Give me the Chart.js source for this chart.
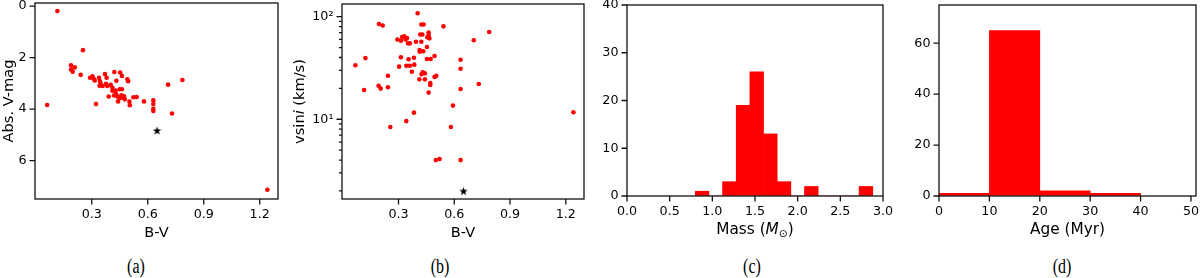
<!DOCTYPE html>
<html>
<head>
<meta charset="utf-8">
<script src="https://cdn.jsdelivr.net/npm/chart.js@4.4.1/dist/chart.umd.min.js"></script>
<style>
  html, body { margin: 0; padding: 0; background: #fff; overflow: hidden; }
  #page { position: relative; width: 1200px; height: 278px; overflow: hidden; background: #fff; }
  #page canvas { position: absolute; }
  .cap { position: absolute; top: 266px; font: 16px "Liberation Serif", serif; color: #000;
         transform: translate(-50%, -50%) scaleY(1.3); white-space: nowrap; }
</style>
</head>
<body>
<div id="page">
  <canvas id="chartA"></canvas>
  <canvas id="chartB"></canvas>
  <canvas id="chartC"></canvas>
  <canvas id="chartD"></canvas>
  <div class="cap" style="left:136px">(a)</div>
  <div class="cap" style="left:440px">(b)</div>
  <div class="cap" style="left:752px">(c)</div>
  <div class="cap" style="left:1062px">(d)</div>
</div>
<script>
// (a) B-V vs absolute V magnitude
const bvA = [0.116, 0.061, 0.253, 0.189, 0.209, 0.189, 0.198, 0.241, 0.291, 0.304,
             0.312, 0.316, 0.339, 0.344, 0.348, 0.342, 0.359, 0.371, 0.380, 0.377,
             0.384, 0.391, 0.323, 0.402, 0.411, 0.411, 0.421, 0.432, 0.428, 0.420,
             0.430, 0.437, 0.441, 0.452, 0.462, 0.450, 0.462, 0.459, 0.466, 0.473,
             0.477, 0.452, 0.491, 0.495, 0.502, 0.504, 0.523, 0.541, 0.580, 0.630,
             0.630, 0.630, 0.630, 0.709, 0.730, 0.786, 1.241];
const vmagA = [0.19, 3.84, 1.71, 2.30, 2.38, 2.46, 2.55, 2.67, 2.78, 2.73,
               2.84, 2.89, 2.78, 2.92, 3.02, 3.09, 3.10, 2.64, 2.78, 3.02,
               3.10, 3.51, 3.80, 3.06, 3.17, 3.29, 2.56, 2.90, 3.28, 3.47,
               3.42, 3.51, 3.70, 2.58, 2.71, 3.23, 3.23, 3.46, 3.55, 3.50,
               3.62, 3.57, 2.84, 2.92, 3.71, 3.85, 3.54, 3.53, 3.70, 3.66,
               3.80, 3.99, 4.07, 3.05, 4.17, 2.87, 7.13];

// (b) B-V vs v sin i
const bvB = [0.403, 0.195, 0.215, 0.423, 0.435, 0.542, 0.788, 0.417, 0.428, 0.462,
             0.462, 0.455, 0.466, 0.320, 0.331, 0.346, 0.338, 0.294, 0.313, 0.351,
             0.361, 0.394, 0.423, 0.705, 0.453, 0.414, 0.414, 0.433, 0.494, 0.068,
             0.122, 0.313, 0.354, 0.383, 0.453, 0.473, 0.634, 0.303, 0.342, 0.361,
             0.385, 0.372, 0.430, 0.442, 0.424, 0.634, 0.243, 0.494, 0.503, 0.412,
             0.442, 0.471, 0.471, 0.732, 0.193, 0.204, 0.243, 0.115, 0.634, 0.462,
             0.593, 0.383, 1.241, 0.342, 0.256, 0.582, 0.501, 0.521, 0.634];
const vsiniB = [108, 85, 82, 84, 84, 80.5, 71, 67, 67, 70,
                66, 63, 61.5, 63.4, 64.4, 62, 60, 60, 58.4, 55,
                55, 57, 57, 59, 50.7, 47.3, 45.6, 46, 41.4, 33.6,
                39.5, 40.2, 38.5, 39.8, 38.7, 38.7, 38, 32.6, 33.3, 33.3,
                34.1, 29.1, 28.7, 28, 27.5, 31.1, 26.6, 25.8, 26.5, 24.5,
                24.5, 22.6, 21.6, 22.1, 21.2, 19.9, 20.5, 19.3, 19.7, 18.2,
                13.6, 11.6, 11.7, 9.6, 8.4, 8.4, 4.0, 4.1, 4.0];

// the Sun (black star)
const sunBV = 0.65;
const sunVmag = 4.83;
const sunVsini = 2.0;

// (c) mass histogram
const massBins = [0.88, 1.04, 1.20, 1.36, 1.52, 1.68, 1.84, 2.00, 2.16, 2.32, 2.48, 2.64, 2.80];
const massCounts = [1, 0, 3, 19, 26, 13, 3, 0, 2, 0, 0, 0, 2];

// (d) age histogram
const ageBins = [5, 15, 25, 35];
const ageCounts = [1, 65, 2, 1];

// ticks
const bvTicks = [0.3, 0.6, 0.9, 1.2];
const vmagTicks = [0, 2, 4, 6];
const vsiniMajor = [10, 100];
const vsiniMinor = [2, 3, 4, 5, 6, 7, 8, 9, 20, 30, 40, 50, 60, 70, 80, 90];
const massTicks = [0, 0.5, 1.0, 1.5, 2.0, 2.5, 3.0];
const massCountTicks = [0, 10, 20, 30, 40];
const ageTicks = [0, 10, 20, 30, 40, 50];
const ageCountTicks = [0, 20, 40, 60];

const RED = '#ff0000';
const FONT = 'DejaVu Sans';
const TICK_SIZE = 12.7;

// plot areas on the page
const boxes = {
    a: { L: 35, T: 3, R: 278, B: 199 },
    b: { L: 342, T: 4, R: 584, B: 199 },
    c: { L: 627, T: 5, R: 883, B: 196 },
    d: { L: 939, T: 5, R: 1196, B: 196 }
};

function starMarker(size) {
    const c = document.createElement('canvas');
    c.width = c.height = size;
    const g = c.getContext('2d');
    g.fillStyle = '#000';
    g.beginPath();
    for (let i = 0; i < 10; i++) {
        const r = i % 2 ? size * 0.2 : size * 0.5;
        const ang = -Math.PI / 2 + i * Math.PI / 5;
        const px = size / 2 + r * Math.cos(ang);
        const py = size / 2 + 0.5 + r * Math.sin(ang);
        if (i === 0) g.moveTo(px, py); else g.lineTo(px, py);
    }
    g.closePath();
    g.fill();
    return c;
}

function drawRich(ctx, segs, size, x, y, vertical) {
    const fontOf = s => (s.italic ? 'italic ' : '') + (size * (s.scale || 1)) + 'px "' + FONT + '"';
    let total = 0;
    segs.forEach(s => { ctx.font = fontOf(s); total += ctx.measureText(s.text).width; });
    ctx.save();
    ctx.translate(x, y);
    if (vertical) ctx.rotate(-Math.PI / 2);
    ctx.fillStyle = '#000';
    ctx.textAlign = 'left';
    ctx.textBaseline = 'alphabetic';
    let cx = -total / 2;
    segs.forEach(s => {
        ctx.font = fontOf(s);
        ctx.fillText(s.text, cx, (s.dy || 0) * size);
        cx += ctx.measureText(s.text).width;
    });
    ctx.restore();
}

// frame, tick marks and axis titles, matplotlib style
const framePlugin = {
    id: 'frame',
    afterDraw(chart, args, opts) {
        const { ctx, chartArea: a } = chart;
        const xs = chart.scales.x, ys = chart.scales.y;
        ctx.save();
        ctx.strokeStyle = '#111';
        ctx.lineWidth = 1.3;
        ctx.strokeRect(a.left, a.top, a.right - a.left, a.bottom - a.top);
        ctx.beginPath();
        xs.ticks.forEach(t => {
            const p = xs.getPixelForValue(t.value);
            ctx.moveTo(p, a.bottom);
            ctx.lineTo(p, a.bottom + (t.minor ? 3 : 5.5));
        });
        ys.ticks.forEach(t => {
            const p = ys.getPixelForValue(t.value);
            ctx.moveTo(a.left, p);
            ctx.lineTo(a.left - (t.minor ? 3 : 5.5), p);
        });
        ctx.stroke();
        ctx.restore();
        if (opts.xTitle) drawRich(ctx, opts.xTitle, opts.titleSize, (a.left + a.right) / 2, a.bottom + 38, false);
        if (opts.yTitle) drawRich(ctx, opts.yTitle, opts.titleSize, a.left - opts.yTitleOffset, (a.top + a.bottom) / 2, true);
    }
};

function setupCanvas(canvas, box) {
    canvas.width = (box.R - box.L) + 85;
    canvas.height = box.B + 65;
    canvas.style.left = (box.L - 60) + 'px';
    canvas.style.top = '-20px';
    return { left: 20, top: box.T + 20, right: 25, bottom: 15 };
}

function axis(min, max, tickValues, fmt, extra) {
    return Object.assign({
        min: min,
        max: max,
        offset: false,
        grid: { display: true, drawOnChartArea: false, drawTicks: false },
        border: { display: false },
        afterBuildTicks: s => { s.ticks = tickValues.map(v => ({ value: v })); },
        ticks: {
            autoSkip: false,
            maxRotation: 0,
            color: '#000',
            font: { family: FONT, size: TICK_SIZE },
            callback: fmt
        }
    }, extra || {});
}

function xAxis(min, max, tickValues, fmt) {
    const s = axis(min, max, tickValues, fmt, { type: 'linear', position: 'bottom' });
    s.ticks.padding = 8;
    s.afterFit = sc => { sc.height = 30; };
    return s;
}

function yAxis(min, max, tickValues, fmt, extra) {
    const s = axis(min, max, tickValues, fmt, Object.assign({ type: 'linear', position: 'left' }, extra || {}));
    s.ticks.padding = 8.5;
    s.afterFit = sc => { sc.width = 40; };
    return s;
}

function baseOptions(padding, frameOpts, scales) {
    return {
        responsive: false,
        animation: false,
        devicePixelRatio: 1,
        layout: { padding: padding },
        plugins: { legend: { display: false }, tooltip: { enabled: false }, frame: frameOpts },
        scales: scales
    };
}

const one = v => Number(v).toFixed(1);
const int = v => String(v);
const star = starMarker(9);

// (a)
const canvasA = document.getElementById('chartA');
new Chart(canvasA, {
    type: 'scatter',
    data: {
        datasets: [
            { data: bvA.map((x, i) => ({ x: x, y: vmagA[i] })), backgroundColor: RED, borderWidth: 0, pointRadius: 2.3 },
            { data: [{ x: sunBV, y: sunVmag }], pointStyle: star, pointRadius: 4.5 }
        ]
    },
    options: baseOptions(setupCanvas(canvasA, boxes.a),
        { xTitle: [{ text: 'B-V' }], yTitle: [{ text: 'Abs. V-mag' }], titleSize: 14.6, yTitleOffset: 22 },
        {
            x: xAxis(-0.004, 1.298, bvTicks, one),
            y: yAxis(-0.12, 7.49, vmagTicks, int, { reverse: true })
        }),
    plugins: [framePlugin]
});

// (b)
const canvasB = document.getElementById('chartB');
const vsiniTickValues = vsiniMinor.concat(vsiniMajor).sort((p, q) => p - q);
const yB = yAxis(1.67, 133, vsiniTickValues,
    v => v === 10 ? '10\u00B9' : v === 100 ? '10\u00B2' : '', { type: 'logarithmic' });
yB.afterBuildTicks = s => { s.ticks = vsiniTickValues.map(v => ({ value: v, minor: vsiniMajor.indexOf(v) < 0 })); };
new Chart(canvasB, {
    type: 'scatter',
    data: {
        datasets: [
            { data: bvB.map((x, i) => ({ x: x, y: vsiniB[i] })), backgroundColor: RED, borderWidth: 0, pointRadius: 2.3 },
            { data: [{ x: sunBV, y: sunVsini }], pointStyle: star, pointRadius: 4.5 }
        ]
    },
    options: baseOptions(setupCanvas(canvasB, boxes.b),
        {
            xTitle: [{ text: 'B-V' }],
            yTitle: [{ text: 'vsin' }, { text: 'i', italic: true }, { text: ' (km/s)' }],
            titleSize: 14.6, yTitleOffset: 38
        },
        {
            x: xAxis(-0.004, 1.298, bvTicks, one),
            y: yB
        }),
    plugins: [framePlugin]
});

// (c)
const canvasC = document.getElementById('chartC');
new Chart(canvasC, {
    type: 'bar',
    data: {
        datasets: [{
            data: massBins.map((x, i) => ({ x: x, y: massCounts[i] })),
            backgroundColor: RED, borderWidth: 0, barPercentage: 1, categoryPercentage: 1
        }]
    },
    options: baseOptions(setupCanvas(canvasC, boxes.c),
        {
            xTitle: [{ text: 'Mass (' }, { text: 'M', italic: true }, { text: '\u2299', scale: 0.7, dy: 0.22 }, { text: ')' }],
            titleSize: 15.3
        },
        {
            x: xAxis(0, 3, massTicks, one),
            y: yAxis(0, 40, massCountTicks, int)
        }),
    plugins: [framePlugin]
});

// (d)
const canvasD = document.getElementById('chartD');
new Chart(canvasD, {
    type: 'bar',
    data: {
        datasets: [{
            data: ageBins.map((x, i) => ({ x: x, y: ageCounts[i] })),
            backgroundColor: RED, borderWidth: 0, barPercentage: 1, categoryPercentage: 1
        }]
    },
    options: baseOptions(setupCanvas(canvasD, boxes.d),
        { xTitle: [{ text: 'Age (Myr)' }], titleSize: 15.3 },
        {
            x: xAxis(0, 51, ageTicks, int),
            y: yAxis(0, 75, ageCountTicks, int)
        }),
    plugins: [framePlugin]
});
</script>
</body>
</html>
